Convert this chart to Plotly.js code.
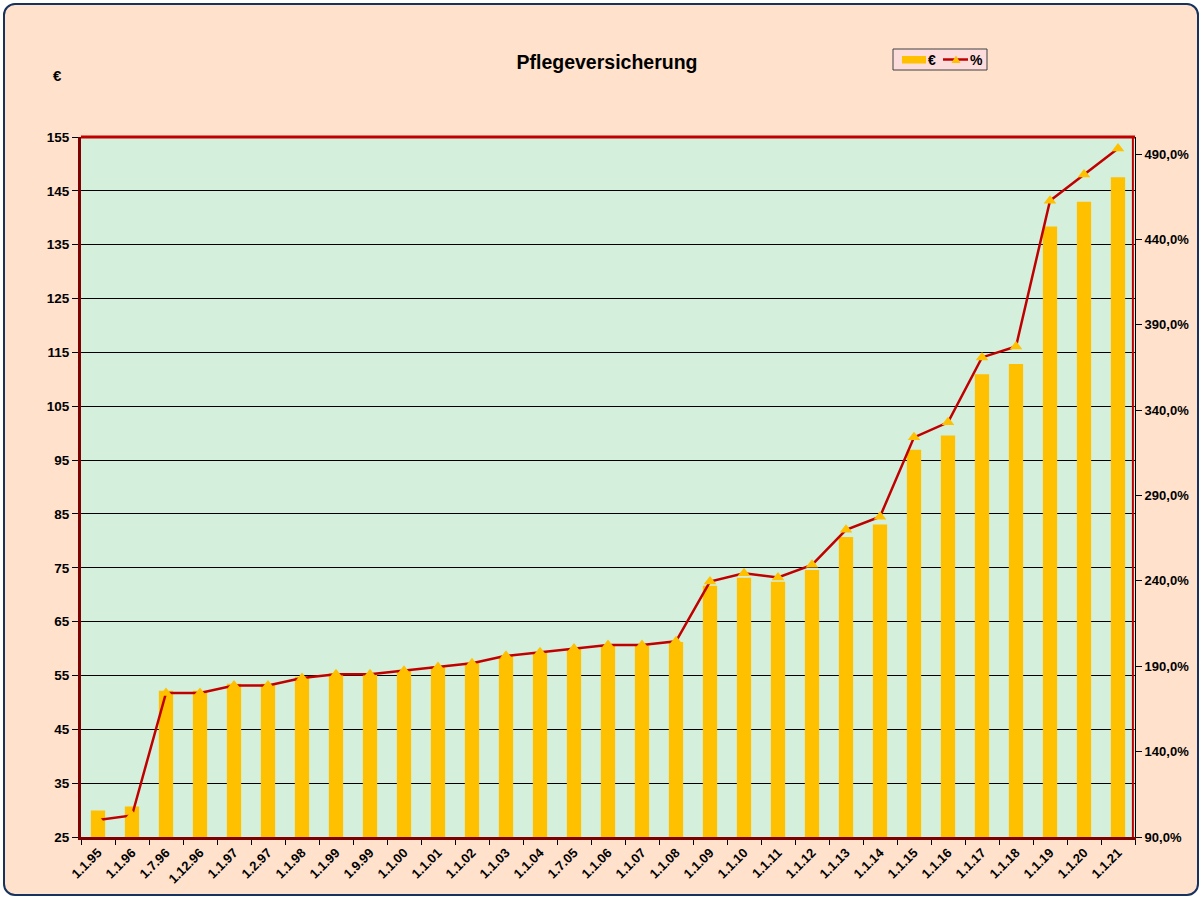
<!DOCTYPE html>
<html>
<head>
<meta charset="utf-8">
<script src="https://cdn.plot.ly/plotly-3.0.1.min.js"></script>
<style>
  html, body { margin:0; padding:0; background:#ffffff; width:1202px; height:899px; overflow:hidden; }
  #bg { position:absolute; left:3px; top:3px; width:1192px; height:889px; border:2px solid #17325E; border-radius:12px; background:#FFE1CC; }
  #chart { position:absolute; left:0; top:0; width:1202px; height:899px; }
</style>
</head>
<body>
<div id="bg"></div>
<div id="chart"></div>
<script>
// Dates (categories)
const categories = ["1.1.95","1.1.96","1.7.96","1.12.96","1.1.97","1.2.97","1.1.98","1.1.99","1.9.99","1.1.00",
  "1.1.01","1.1.02","1.1.03","1.1.04","1.7.05","1.1.06","1.1.07","1.1.08","1.1.09","1.1.10",
  "1.1.11","1.1.12","1.1.13","1.1.14","1.1.15","1.1.16","1.1.17","1.1.18","1.1.19","1.1.20","1.1.21"];
// Monthly amount in €
const euroValues = [29.91,30.68,52.15,52.15,53.46,53.46,54.76,55.41,55.41,56.06,
  56.71,57.38,58.65,59.29,59.93,60.56,60.56,61.20,71.66,73.13,
  72.39,74.59,80.72,83.03,96.94,99.58,110.93,112.84,138.39,142.97,147.54];
// Percent relative to 1.1.95
const percentValues = [100.0,102.6,174.4,174.4,178.7,178.7,183.1,185.3,185.3,187.4,
  189.6,191.8,196.1,198.2,200.4,202.5,202.5,204.6,239.6,244.5,
  242.0,249.4,269.9,277.6,324.1,332.9,370.9,377.3,462.7,478.0,493.3];
const seriesNames = ["€", "%"];

const FONT = "Arial, 'Liberation Sans', sans-serif";
const BAR_COLOR = "#FFC000", LINE_COLOR = "#C00000";

// plot area in pixels: x 81..1135, y 137..837
const PX = x => (x - 81) / 1054;
const PY = y => (837 - y) / 700;

const traces = [
  {
    type: "bar", name: seriesNames[0], x: categories, y: euroValues,
    marker: { color: BAR_COLOR, line: { width: 0 } },
    width: 0.42, yaxis: "y"
  },
  {
    type: "scatter", mode: "lines+markers", name: seriesNames[1], x: categories, y: percentValues,
    line: { color: LINE_COLOR, width: 2.5 },
    marker: { symbol: "triangle-up", size: 11, color: BAR_COLOR },
    yaxis: "y2"
  }
];

// legend drawn as shapes (box, swatches)
const legendShapes = [
  { type: "rect", xref: "paper", yref: "paper", x0: PX(893), x1: PX(987), y0: PY(70), y1: PY(49),
    fillcolor: "#FDDCDC", line: { color: "#404040", width: 1 } },
  { type: "rect", xref: "paper", yref: "paper", x0: PX(902), x1: PX(926), y0: PY(63.5), y1: PY(56),
    fillcolor: BAR_COLOR, line: { width: 0 } },
  { type: "line", xref: "paper", yref: "paper", x0: PX(943), x1: PX(968), y0: PY(59.5), y1: PY(59.5),
    line: { color: LINE_COLOR, width: 2.5 } },
  { type: "path", xref: "paper", yref: "paper",
    path: `M ${PX(951.5)} ${PY(63)} L ${PX(960.5)} ${PY(63)} L ${PX(956)} ${PY(55.5)} Z`,
    fillcolor: BAR_COLOR, line: { width: 0 } }
];

const layout = {
  width: 1202, height: 899,
  margin: { l: 81, r: 67, t: 137, b: 62, autoexpand: false },
  paper_bgcolor: "rgba(0,0,0,0)",
  plot_bgcolor: "#D4F0DC",
  separators: ",.",
  font: { family: FONT, color: "#000", size: 12 },
  title: {
    text: "Pflegeversicherung",
    font: { family: FONT, size: 19.5, weight: "bold", color: "#000" },
    x: PX(607), xref: "paper", xanchor: "center",
    y: 1 - 62/899, yref: "container", yanchor: "middle"
  },
  showlegend: false,
  xaxis: {
    type: "category", range: [-0.5, 30.5],
    tickson: "boundaries", ticks: "outside", ticklen: 5, tickcolor: "#000",
    showline: true, linecolor: "#7F0000", linewidth: 3,
    showgrid: false, tickangle: -45,
    tickfont: { family: FONT, size: 13, weight: "bold", color: "#000" },
    automargin: false, fixedrange: true
  },
  yaxis: {
    range: [25, 155], tick0: 25, dtick: 10,
    ticks: "outside", ticklen: 6, tickcolor: "#000",
    showline: true, linecolor: "#7F0000", linewidth: 3,
    showgrid: true, gridcolor: "#000", gridwidth: 1, zeroline: false,
    tickfont: { family: FONT, size: 13.5, weight: "bold", color: "#000" },
    automargin: false, fixedrange: true
  },
  yaxis2: {
    overlaying: "y", side: "right",
    range: [90, 500], tick0: 90, dtick: 50, tickformat: ".1f", ticksuffix: "%",
    ticks: "outside", ticklen: 6, tickcolor: "#000",
    showline: true, linecolor: "#000", linewidth: 1,
    showgrid: false, zeroline: false,
    tickfont: { family: FONT, size: 13, weight: "bold", color: "#000" },
    automargin: false, fixedrange: true
  },
  shapes: [
    { type: "line", xref: "paper", yref: "paper", x0: 0, x1: 1, y0: 1, y1: 1, line: { color: LINE_COLOR, width: 3 } },
    { type: "line", xref: "paper", yref: "paper", x0: 0.998, x1: 0.998, y0: 0, y1: 1, line: { color: LINE_COLOR, width: 2 } }
  ].concat(legendShapes),
  annotations: [
    { text: "€", xref: "paper", yref: "paper", x: PX(57), y: PY(75),
      xanchor: "center", yanchor: "middle", showarrow: false,
      font: { family: FONT, size: 15, weight: "bold", color: "#000" } },
    { text: seriesNames[0], xref: "paper", yref: "paper", x: PX(931.5), y: PY(60),
      xanchor: "center", yanchor: "middle", showarrow: false,
      font: { family: FONT, size: 14, weight: "bold", color: "#000" } },
    { text: seriesNames[1], xref: "paper", yref: "paper", x: PX(976), y: PY(60),
      xanchor: "center", yanchor: "middle", showarrow: false,
      font: { family: FONT, size: 14, weight: "bold", color: "#000" } }
  ]
};

Plotly.newPlot("chart", traces, layout, { displayModeBar: false, staticPlot: true });
</script>
</body>
</html>
